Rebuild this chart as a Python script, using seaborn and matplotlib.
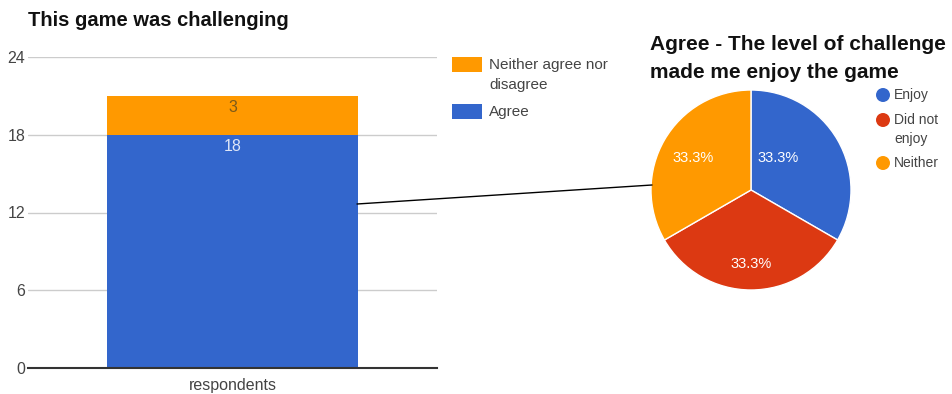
import matplotlib
matplotlib.use("Agg")
import matplotlib.pyplot as plt
from matplotlib.patches import Rectangle, Ellipse, ConnectionPatch
import seaborn as sns
import pandas as pd

# Survey data
category = ["respondents"]
agree = [18]
neither_agree = [3]
y_ticks = [0, 6, 12, 18, 24]
bar_legend = ["Neither agree nor\ndisagree", "Agree"]

pie_labels = ["Enjoy", "Did not\nenjoy", "Neither"]
pie_values = [1, 1, 1]

BLUE = "#3366CC"
RED = "#DC3912"
ORANGE = "#FF9900"
GRID = "#cccccc"
TEXT = "#444444"

sns.set_theme(style="white")
plt.rcParams["font.family"] = ["Liberation Sans", "DejaVu Sans"]

fig = plt.figure(figsize=(9.52, 3.94), dpi=100)
W, H = 952, 394


def fx(x):
    return x / W


def fy(y):
    return 1 - y / H


def px_axes(x0, y0, x1, y1):
    return fig.add_axes([fx(x0), fy(y1), (x1 - x0) / W, (y1 - y0) / H])


# ---- stacked bar chart ----
ax = px_axes(28, 57, 437, 368)
df = pd.DataFrame({
    "category": category,
    "agree": agree,
    "total": [a + n for a, n in zip(agree, neither_agree)],
})
sns.barplot(data=df, x="category", y="total", color=ORANGE, saturation=1,
            width=0.614, ax=ax, zorder=3, linewidth=0)
sns.barplot(data=df, x="category", y="agree", color=BLUE, saturation=1,
            width=0.614, ax=ax, zorder=3, linewidth=0)
ax.set_ylim(0, 24)
ax.set_xlim(-0.5, 0.5)
ax.set_yticks(y_ticks)
ax.yaxis.grid(True, color=GRID, linewidth=1, zorder=0)
ax.set_axisbelow(True)
for s in ["top", "right", "left"]:
    ax.spines[s].set_visible(False)
ax.spines["bottom"].set_color("#333333")
ax.spines["bottom"].set_linewidth(1.5)
ax.spines["bottom"].set_zorder(4)
ax.tick_params(axis="y", length=0, pad=2, labelsize=11.5, labelcolor=TEXT)
ax.tick_params(axis="x", length=0, pad=7, labelsize=11.5, labelcolor=TEXT)
ax.set_xlabel("")
ax.set_ylabel("")

# value labels inside segments
for a, n in zip(agree, neither_agree):
    ax.text(0, a + n - 0.3, f"{n}", ha="center", va="top", fontsize=11.5,
            color="#7a5a1a", zorder=5)
    ax.text(0, a - 0.3, f"{a}", ha="center", va="top", fontsize=11.5,
            color="#dfe6f7", zorder=5)

fig.text(fx(28), fy(20), "This game was challenging", fontsize=14.5,
         fontweight="bold", color="#111111", va="center", ha="left")

# bar legend: swatch plus label, first text line centred on the swatch
for color, label, y_box in zip([ORANGE, BLUE], bar_legend, [57, 104]):
    fig.add_artist(Rectangle((fx(452), fy(y_box + 15)), 30 / W, 15 / H,
                             transform=fig.transFigure, facecolor=color,
                             edgecolor="none"))
    fig.text(fx(489), fy(y_box + 1), label, fontsize=11, color=TEXT,
             va="top", ha="left", linespacing=1.55)

# ---- pie chart ----
pax = px_axes(651, 90, 851, 290)
wedges, _, autotexts = pax.pie(
    pie_values, colors=[BLUE, RED, ORANGE], startangle=90, counterclock=False,
    autopct="%1.1f%%", pctdistance=0.62,
    wedgeprops=dict(edgecolor="white", linewidth=1),
    textprops=dict(color="white", fontsize=10.5),
)
pax.set_xlim(-1, 1)
pax.set_ylim(-1, 1)
pax.set_aspect("equal")
for t, pos in zip(autotexts, [(0.27, 0.32), (0.0, -0.74), (-0.58, 0.32)]):
    t.set_position(pos)

fig.text(fx(650), fy(45), "Agree - The level of challenge", fontsize=15,
         fontweight="bold", color="#111111", va="center", ha="left")
fig.text(fx(650), fy(72), "made me enjoy the game", fontsize=15,
         fontweight="bold", color="#111111", va="center", ha="left")

# pie legend
for color, label, y in zip([BLUE, RED, ORANGE], pie_labels, [95, 120, 163]):
    fig.add_artist(Ellipse((fx(883), fy(y)), 14 / W, 14 / H,
                           transform=fig.transFigure,
                           facecolor=color, edgecolor="none"))
    fig.text(fx(894), fy(y - 7), label, fontsize=10, color=TEXT,
             va="top", ha="left", linespacing=1.45)

# connector between the agree bar and the pie
con = ConnectionPatch(xyA=(fx(357), fy(204)), xyB=(fx(652), fy(185)),
                      coordsA="figure fraction", coordsB="figure fraction",
                      color="black", linewidth=1)
fig.add_artist(con)

fig.savefig("out.png", dpi=100)
